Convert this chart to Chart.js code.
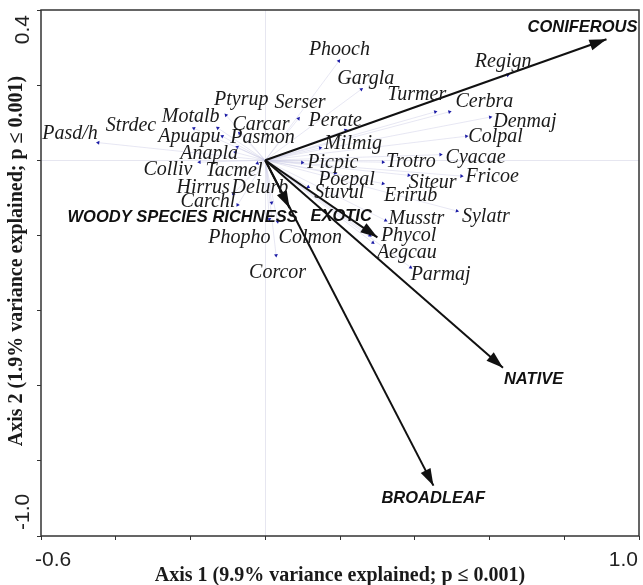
<!DOCTYPE html>
<html>
<head>
<meta charset="utf-8">
<script src="https://cdn.jsdelivr.net/npm/chart.js@4.4.1/dist/chart.umd.min.js"></script>
<style>
    body { margin: 0; background: #ffffff; }
    #rdaBiplot { display: block; }
</style>
</head>
<body>
<canvas id="rdaBiplot" width="643" height="585"></canvas>
<script>
// species scores (axis 1, axis 2)
const speciesCodes = ['Pasd/h', 'Strdec', 'Motalb', 'Ptyrup', 'Carcar', 'Apuapu', 'Pasmon', 'Anapla', 'Colliv', 'Tacmel',
    'Hirrus', 'Carchl', 'Delurb', 'Phopho', 'Colmon', 'Corcor', 'Serser', 'Phooch', 'Gargla', 'Perate',
    'Milmig', 'Picpic', 'Poepal', 'Stuvul', 'Trotro', 'Erirub', 'Siteur', 'Cyacae', 'Fricoe', 'Sylatr',
    'Musstr', 'Aegcau', 'Phycol', 'Parmaj', 'Colpal', 'Denmaj', 'Turmer', 'Cerbra', 'Regign'];
const speciesAxis1 = [-0.447, -0.191, -0.127, -0.105, -0.069, -0.115, -0.075, -0.080, -0.176, -0.021,
    -0.085, -0.074, 0.017, 0.011, 0.033, 0.029, 0.089, 0.197, 0.257, 0.215,
    0.147, 0.099, 0.187, 0.115, 0.315, 0.315, 0.384, 0.469, 0.525, 0.513,
    0.322, 0.288, 0.280, 0.389, 0.538, 0.602, 0.455, 0.493, 0.649];
const speciesAxis2 = [0.047, 0.085, 0.086, 0.120, 0.072, 0.064, 0.035, 0.021, -0.005, -0.008,
    -0.089, -0.119, -0.113, -0.157, -0.163, -0.253, 0.111, 0.264, 0.189, 0.080,
    0.033, -0.006, -0.034, -0.071, -0.005, -0.062, -0.040, 0.015, -0.042, -0.135,
    -0.160, -0.219, -0.200, -0.285, 0.064, 0.115, 0.129, 0.129, 0.227];

// environmental variables (biplot arrows)
const envVariables = ['CONIFEROUS', 'NATIVE', 'BROADLEAF', 'EXOTIC', 'WOODY SPECIES RICHNESS'];
const envAxis1 = [0.913, 0.636, 0.450, 0.300, 0.065];
const envAxis2 = [0.322, -0.552, -0.866, -0.205, -0.127];

// axes
const axis1Range = [-0.6, 1.0];
const axis2Range = [-1.0, 0.4];
const axisStep = 0.2;
const axis1Title = 'Axis 1 (9.9% variance explained; p \u2264 0.001)';
const axis2Title = 'Axis 2 (1.9% variance explained; p \u2264 0.001)';

// label placement, pixels from the mark
const speciesLabelOffsets = [[-56, -9], [-88, -3], [-56, -11], [-12, -15], [-7, -8], [-64, 1], [-7, -9], [-55, 1], [-56, 8], [-52, 7],
    [-57, -6], [-57, -3], [-40, -15], [-61, 18], [1, 16], [-27, 17], [-24, -16], [-30, -11], [-24, -11], [-37, -9],
    [4, -4], [5, 0], [-17, 7], [6, 6], [3, 0], [1, 12], [0, 7], [5, 3], [4, 1], [5, 6],
    [3, -2], [4, 10], [11, 0], [0, 7], [2, 1], [3, 5], [-48, -17], [6, -10], [-33, -13]];
const envLabelOffsets = [[-79, -12], [1, 12], [-52, 13], [-67, -21], [-222, 9]];

const frameColour = '#333333';
const zeroLineColour = '#e6e6f0';

function isZero(v) {
    return Math.abs(v) < 1e-9;
}

function buildDatasets() {
    let datasets = [];

    envVariables.forEach(function (name, i) {
        datasets.push({
            label: name,
            data: [{ x: 0, y: 0 }, { x: envAxis1[i], y: envAxis2[i] }],
            borderColor: '#111111',
            borderWidth: 2,
            pointRadius: 0,
            order: 0
        });
    });

    speciesCodes.forEach(function (code, i) {
        let angle = Math.atan2(-speciesAxis2[i], speciesAxis1[i]) * 180 / Math.PI;
        datasets.push({
            label: code,
            data: [{ x: 0, y: 0 }, { x: speciesAxis1[i], y: speciesAxis2[i] }],
            borderColor: 'rgba(195, 195, 225, 0.4)',
            borderWidth: 1,
            pointRadius: [0, 2.2],
            pointStyle: 'triangle',
            rotation: angle + 90,
            pointBackgroundColor: '#1c1ca6',
            pointBorderColor: '#1c1ca6',
            pointBorderWidth: 0,
            order: 1
        });
    });

    return datasets;
}

const biplotDecor = {
    id: 'biplotDecor',
    afterDatasetsDraw(chart) {
        const { ctx, chartArea: a, scales: { x, y } } = chart;
        ctx.save();

        // arrow heads
        envVariables.forEach(function (name, i) {
            let pts = chart.getDatasetMeta(i).data;
            let ang = Math.atan2(pts[1].y - pts[0].y, pts[1].x - pts[0].x);
            let len = 17, half = 5.5;
            ctx.beginPath();
            ctx.moveTo(pts[1].x, pts[1].y);
            ctx.lineTo(pts[1].x - len * Math.cos(ang) + half * Math.sin(ang), pts[1].y - len * Math.sin(ang) - half * Math.cos(ang));
            ctx.lineTo(pts[1].x - len * Math.cos(ang) - half * Math.sin(ang), pts[1].y - len * Math.sin(ang) + half * Math.cos(ang));
            ctx.closePath();
            ctx.fillStyle = '#111111';
            ctx.fill();
        });

        // species labels
        ctx.font = 'italic 20px "Liberation Serif", "Times New Roman", serif';
        ctx.fillStyle = '#1a1a1a';
        ctx.textAlign = 'left';
        ctx.textBaseline = 'middle';
        speciesCodes.forEach(function (code, i) {
            let p = chart.getDatasetMeta(envVariables.length + i).data[1];
            ctx.fillText(code, p.x + speciesLabelOffsets[i][0], p.y + speciesLabelOffsets[i][1]);
        });

        // environmental labels
        ctx.font = 'italic bold 16.5px "Liberation Sans", Arial, sans-serif';
        ctx.fillStyle = '#111111';
        envVariables.forEach(function (name, i) {
            let p = chart.getDatasetMeta(i).data[1];
            ctx.fillText(name, p.x + envLabelOffsets[i][0], p.y + envLabelOffsets[i][1]);
        });

        // frame
        ctx.strokeStyle = frameColour;
        ctx.lineWidth = 1.5;
        ctx.strokeRect(a.left, a.top, a.right - a.left, a.bottom - a.top);

        // end tick labels
        ctx.font = '21px "Liberation Sans", Arial, sans-serif';
        ctx.fillStyle = '#222222';
        ctx.textAlign = 'left';
        ctx.fillText(axis1Range[0].toFixed(1), x.getPixelForValue(axis1Range[0]) - 6, a.bottom + 24);
        ctx.textAlign = 'right';
        ctx.fillText(axis1Range[1].toFixed(1), x.getPixelForValue(axis1Range[1]) - 1, a.bottom + 24);

        ctx.save();
        ctx.translate(23, y.getPixelForValue(axis2Range[1]) + 5);
        ctx.rotate(-Math.PI / 2);
        ctx.textAlign = 'right';
        ctx.fillText(axis2Range[1].toFixed(1), 0, 0);
        ctx.restore();

        ctx.save();
        ctx.translate(23, y.getPixelForValue(axis2Range[0]) - 6);
        ctx.rotate(-Math.PI / 2);
        ctx.textAlign = 'left';
        ctx.fillText(axis2Range[0].toFixed(1), 0, 0);
        ctx.restore();

        // axis titles
        ctx.font = 'bold 20px "Liberation Serif", "Times New Roman", serif';
        ctx.fillStyle = '#1a1a1a';
        ctx.textAlign = 'center';
        ctx.fillText(axis1Title, (a.left + a.right) / 2, a.bottom + 40);

        ctx.save();
        ctx.translate(17, (a.top + a.bottom) / 2 - 12);
        ctx.rotate(-Math.PI / 2);
        ctx.fillText(axis2Title, 0, 0);
        ctx.restore();

        ctx.restore();
    }
};

function drawBiplot() {
    const rdaBiplot = document.getElementById('rdaBiplot');

    new Chart(rdaBiplot, {
        type: 'line',
        data: {
            datasets: buildDatasets()
        },
        options: {
            responsive: false,
            animation: false,
            devicePixelRatio: 1,
            layout: {
                padding: { top: 10, right: 1.5, left: 0, bottom: 0 }
            },
            plugins: {
                legend: { display: false },
                tooltip: { enabled: false }
            },
            scales: {
                x: {
                    type: 'linear',
                    min: axis1Range[0],
                    max: axis1Range[1],
                    ticks: { stepSize: axisStep, display: false },
                    grid: {
                        color: c => (c.tick && isZero(c.tick.value)) ? zeroLineColour : 'transparent',
                        tickColor: frameColour,
                        tickLength: 4
                    },
                    border: { display: false },
                    afterFit: s => { s.height = 49; }
                },
                y: {
                    type: 'linear',
                    min: axis2Range[0],
                    max: axis2Range[1],
                    ticks: { stepSize: axisStep, display: false },
                    grid: {
                        color: c => (c.tick && isZero(c.tick.value)) ? zeroLineColour : 'transparent',
                        tickColor: frameColour,
                        tickLength: 4
                    },
                    border: { display: false },
                    afterFit: s => { s.width = 41; }
                }
            }
        },
        plugins: [biplotDecor]
    });
}

drawBiplot();
</script>
</body>
</html>
